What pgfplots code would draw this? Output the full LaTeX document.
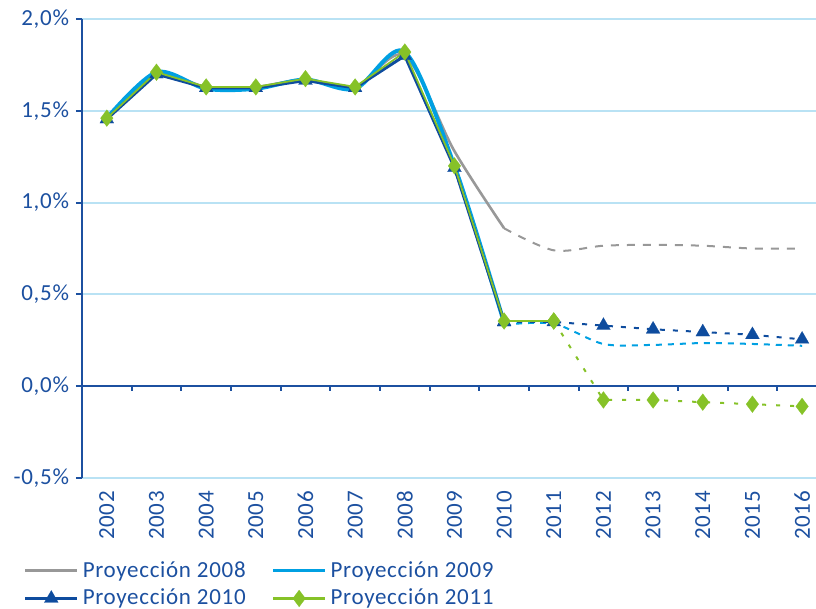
\documentclass[border=0pt]{standalone}
\usepackage{fontspec}
\setmainfont{Carlito}[LetterSpace=3]
\usepackage{pgfplots}
\pgfplotsset{compat=1.18}
\definecolor{txtblue}{RGB}{28,80,160}
\definecolor{gridblue}{RGB}{185,226,244}
\definecolor{pgray}{RGB}{152,152,152}
\definecolor{plblue}{RGB}{0,160,226}
\definecolor{pdblue}{RGB}{14,76,158}
\definecolor{pgreen}{RGB}{134,194,40}
\begin{document}
\begin{tikzpicture}
\path[use as bounding box] (-41pt,-65.5pt) rectangle (367pt,239pt);
\begin{axis}[at={(0pt,0pt)}, anchor=south west, scale only axis,
  width=367pt, height=229.5pt,
  xmin=-0.5, xmax=14.28, ymin=-0.5, ymax=2.0,
  axis y line*=left, axis x line*=bottom,
  x axis line style={draw=none},
  y axis line style={draw=txtblue, line width=1pt},
  ytick={-0.5,0,0.5,1,1.5,2},
  xtick={0,1,2,3,4,5,6,7,8,9,10,11,12,13,14},
  xticklabels={2002,2003,2004,2005,2006,2007,2008,2009,2010,2011,2012,2013,2014,2015,2016},
  x tick style={draw=none},
  y tick style={draw=txtblue, line width=1pt},
  tick align=outside, major tick length=3pt,
  ymajorgrids, grid style={gridblue, line width=1pt},
  /pgf/number format/assume math mode=true,
  yticklabel={\pgfmathprintnumber[fixed,fixed zerofill,precision=1,use comma]{\tick}\%},
  ticklabel style={font=\fontsize{11.5}{13}\selectfont, text=txtblue},
  xticklabel style={rotate=90, anchor=east},
  legend columns=2,
  legend style={at={(-0.088,-0.163)}, anchor=north west, draw=none, fill=none,
    font=\fontsize{11.5}{13}\selectfont, text=txtblue,
    /tikz/every even column/.append style={column sep=11pt},
    row sep=0.5pt},
  legend cell align=left,
  legend image code/.code={\draw[mark repeat=2,mark phase=2,#1,line width=1.5pt] plot coordinates {(0pt,0pt) (13pt,0pt) (26pt,0pt)};},
]
% zero line with ticks
\draw[txtblue, line width=1pt] (axis cs:-0.5,0) -- (axis cs:14.28,0);
\pgfplotsinvokeforeach{0.5,1.5,2.5,3.5,4.5,5.5,6.5,7.5,8.5,9.5,10.5,11.5,12.5,13.5}{
  \draw[txtblue, line width=1pt] (axis cs:#1,0) -- ++(0pt,-2.5pt);
}
% Proyeccion 2008
\addplot[pgray, line width=1.3pt, smooth, no markers] coordinates {
 (0,1.46) (1,1.70) (2,1.63) (3,1.63) (4,1.67) (5,1.63) (6,1.80) (7,1.28) (8,0.86)};
\addlegendentry{Proyección 2008}
\addplot[pgray, line width=1pt, smooth, no markers, dash pattern=on 4pt off 4pt, forget plot] coordinates {
 (8,0.86) (9,0.74) (10,0.765) (11,0.77) (12,0.765) (13,0.75) (14,0.75)};
% Proyeccion 2009
\addplot[plblue, line width=2pt, smooth, no markers] coordinates {
 (0,1.46) (1,1.71) (2,1.62) (3,1.62) (4,1.67) (5,1.62) (6,1.82) (7,1.20) (8,0.345)};
\addlegendentry{Proyección 2009}
\addplot[plblue, line width=1pt, smooth, no markers, dash pattern=on 3pt off 3pt, forget plot] coordinates {
 (8,0.335) (9,0.34) (10,0.23) (11,0.225) (12,0.235) (13,0.23) (14,0.22)};
% Proyeccion 2010
\addplot[pdblue, line width=1.5pt, mark=triangle*, mark size=4pt, mark options={solid, fill=pdblue, draw=pdblue, line width=0.1pt}] coordinates {
 (0,1.455) (1,1.70) (2,1.625) (3,1.625) (4,1.665) (5,1.625) (6,1.80) (7,1.19) (8,0.35)};
\addlegendentry{Proyección 2010}
\addplot[pdblue, line width=1pt, mark=triangle*, mark size=4pt, dash pattern=on 2.5pt off 4pt, mark options={solid, fill=pdblue, draw=pdblue, line width=0.1pt}, forget plot] coordinates {
 (8,0.35) (9,0.35) (10,0.33) (11,0.31) (12,0.295) (13,0.28) (14,0.255)};
% Proyeccion 2011
\addplot[pgreen, line width=0.9pt, mark=diamond*, mark size=4.2pt, mark options={solid, fill=pgreen, draw=pgreen, line width=0.1pt}] coordinates {
 (0,1.46) (1,1.71) (2,1.63) (3,1.63) (4,1.675) (5,1.63) (6,1.82) (7,1.20) (8,0.355) (9,0.355)};
\addlegendentry{Proyección 2011}
\addplot[pgreen, line width=1pt, mark=diamond*, mark size=4.2pt, dash pattern=on 2pt off 5pt, mark options={solid, fill=pgreen, draw=pgreen, line width=0.1pt}, forget plot] coordinates {
 (9,0.355) (10,-0.075) (11,-0.075) (12,-0.087) (13,-0.098) (14,-0.11)};
\end{axis}
\end{tikzpicture}
\end{document}
